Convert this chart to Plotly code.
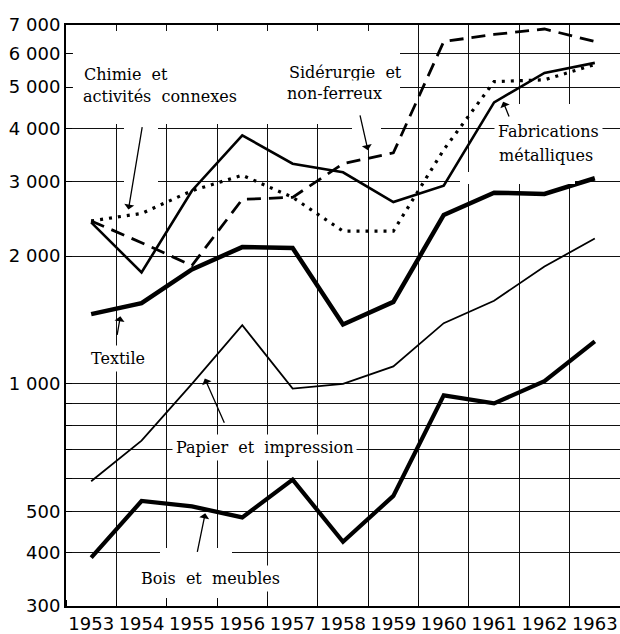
import math
import plotly.graph_objects as go

# ---------------- data ----------------
years = [1953, 1954, 1955, 1956, 1957, 1958, 1959, 1960, 1961, 1962, 1963]

chimie = [2420, 2520, 2850, 3100, 2750, 2290, 2290, 3560, 5150, 5200, 5650]
siderurgie = [2420, 2150, 1900, 2720, 2750, 3300, 3500, 6400, 6650, 6850, 6400]
fabrications = [2400, 1830, 2850, 3850, 3300, 3150, 2680, 2930, 4600, 5400, 5700]
textile = [1460, 1550, 1860, 2100, 2090, 1380, 1560, 2500, 2820, 2800, 3050]
papier = [590, 735, 1000, 1375, 975, 1000, 1100, 1390, 1570, 1890, 2200]
bois = [390, 530, 515, 485, 595, 425, 545, 940, 900, 1015, 1260]

y_tickvals = [300, 400, 500, 600, 700, 800, 900, 1000, 2000, 3000, 4000, 5000, 6000, 7000]
y_ticktext = ["300", "400", "500", "", "", "", "", "1 000", "2 000", "3 000",
              "4 000", "5 000", "6 000", "7 000"]
x_ticktext = [str(y) for y in years]

# ---------------- layout geometry ----------------
W, H = 620, 634
ML, MR, MT, MB = 66, 0, 25, 28
PW, PH = W - ML - MR, H - MT - MB

def px(x):
    return (x - ML) / PW

def py(y):
    return (H - MB - y) / PH

def on_series(series, t):
    """log-interpolated value of a series at fractional year t"""
    i = int(math.floor(t)) - years[0]
    f = t - math.floor(t)
    a, b = math.log10(series[i]), math.log10(series[i + 1])
    return a + (b - a) * f

fig = go.Figure()

def add_line(vals, width, dash="solid"):
    fig.add_trace(go.Scatter(x=years, y=vals, mode="lines",
                             line=dict(color="black", width=width, dash=dash),
                             hoverinfo="skip", showlegend=False))

add_line(papier, 1.8)
add_line(bois, 4.2)
add_line(textile, 4.5)
add_line(fabrications, 2.6)
add_line(siderurgie, 2.8, dash="14px,8px")
add_line(chimie, 3.2, dash="3px,6px")

# white masks (paste-up gaps in the grid), placed where no series runs
masks = [
    (73, 31, 400, 124),
    (124, 120, 158, 186),
    (352, 105, 381, 145),
    (497, 104, 575, 184),
    (460, 172, 497, 184),
    (160, 548, 232, 598),
]
for x0, y0, x1, y1 in masks:
    fig.add_shape(type="rect", xref="paper", yref="paper",
                  x0=px(x0), x1=px(x1), y0=py(y1), y1=py(y0),
                  fillcolor="white", line=dict(width=0), layer="above")

# text labels
lab_font = dict(family="DejaVu Serif", size=16, color="black")
labels = [
    ("Chimie\u00a0 et", 80, 74, "left"),
    ("activités\u00a0 connexes", 79, 96, "left"),
    ("Sidérurgie\u00a0 et", 285, 72, "left"),
    ("non-ferreux", 283, 94, "left"),
    ("Fabrications", 494, 131, "left"),
    ("métalliques", 495, 155, "left"),
    ("Textile", 87, 358, "left"),
    ("Papier\u00a0 et\u00a0 impression", 172, 447, "left"),
    ("Bois\u00a0 et\u00a0 meubles", 137, 578, "left"),
]
for txt, x, y, anc in labels:
    fig.add_annotation(text=txt, xref="paper", yref="paper", x=px(x), y=py(y),
                       xanchor=anc, yanchor="middle", showarrow=False,
                       font=lab_font, bgcolor="white", borderpad=3)

# arrows (heads on the series)
arrows = [
    (chimie, 1953.72, 15, -90, 6),
    (siderurgie, 1958.53, -10, -44, 8),
    (fabrications, 1961.15, 8, 20, 4),
    (textile, 1953.61, -5, 29, 9),
    (papier, 1955.2, 23, 52, 7),
    (bois, 1955.28, -9, 44, 4),
]
for ser, t, ax, ay, so in arrows:
    fig.add_annotation(x=t, y=on_series(ser, t), xref="x", yref="y", text="",
                       showarrow=True, ax=ax, ay=ay, arrowhead=1, arrowsize=1.3,
                       arrowwidth=1.3, arrowcolor="black", standoff=so)

fig.update_xaxes(range=[1952.5, 1963.5], tickvals=years, ticktext=x_ticktext,
                 ticks="", showgrid=False, zeroline=False,
                 showline=True, linecolor="black", linewidth=2, mirror=True,
                 tickfont=dict(family="DejaVu Sans", size=18, color="black"),
                 minor=dict(tick0=1952.5, dtick=1, showgrid=True,
                            gridcolor="#111", gridwidth=1.4,
                            ticks="inside", ticklen=6, tickcolor="black"))
fig.update_yaxes(type="log", range=[math.log10(300), math.log10(7000)],
                 tickvals=y_tickvals, ticktext=y_ticktext,
                 showgrid=True, gridcolor="#111", gridwidth=1.4,
                 ticks="inside", ticklen=6, tickcolor="black",
                 zeroline=False, showline=True, linecolor="black", linewidth=2,
                 tickfont=dict(family="DejaVu Sans", size=18, color="black"))

fig.update_layout(width=W, height=H, margin=dict(l=ML, r=MR, t=MT, b=MB),
                  paper_bgcolor="white", plot_bgcolor="white", showlegend=False)

fig.write_html("out.html", config={"displayModeBar": False},
               post_script="document.body.style.margin='0';"
                           "document.body.style.overflow='hidden';")
